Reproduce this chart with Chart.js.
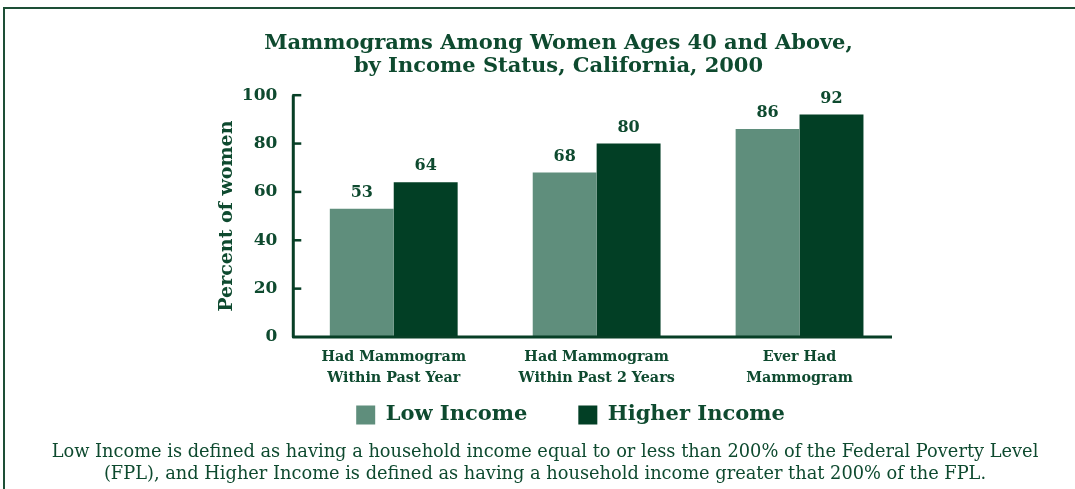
<!DOCTYPE html>
<html>
<head>
<meta charset="utf-8">
<script src="https://cdn.jsdelivr.net/npm/chart.js@4.4.0/dist/chart.umd.min.js"></script>
<style>
  html, body { margin: 0; padding: 0; background: #fff; }
  #wrap { position: relative; width: 1075px; height: 489px; }
  #frame { position: absolute; left: 3px; top: 7px; right: 0; bottom: 0;
           border-top: 2px solid #1d4f36; border-left: 2px solid #1d4f36; }
  canvas { position: absolute; left: 0; top: 0; }
</style>
</head>
<body>
<div id="wrap">
  <div id="frame"></div>
  <canvas id="mammoChart" width="1075" height="489"></canvas>
</div>
<script>
// categorias e valores
const categories = [
  ["Had Mammogram", "Within Past Year"],
  ["Had Mammogram", "Within Past 2 Years"],
  ["Ever Had", "Mammogram"]
];
const lowIncome = [53, 68, 86];
const higherIncome = [64, 80, 92];
const yTicks = [0, 20, 40, 60, 80, 100];

const txt = "#0e4a2f";
const axisColor = "#073f26";
const serif = "'DejaVu Serif', serif";

// rótulos de valor em cima das barras
const valueLabels = {
  id: "valueLabels",
  afterDatasetsDraw(chart) {
    const ctx = chart.ctx;
    ctx.save();
    ctx.font = "bold 16px " + serif;
    ctx.fillStyle = txt;
    ctx.textAlign = "center";
    ctx.textBaseline = "bottom";
    chart.data.datasets.forEach((ds, i) => {
      chart.getDatasetMeta(i).data.forEach((bar, j) => {
        ctx.fillText(ds.data[j], bar.x, bar.y - 8);
      });
    });
    ctx.restore();
  }
};

// eixos com marcas para dentro
const axisLines = {
  id: "axisLines",
  afterDraw(chart) {
    const ctx = chart.ctx;
    const y = chart.scales.y;
    const x = chart.scales.x;
    const left = x.left;
    const bottom = y.getPixelForValue(0);
    ctx.save();
    ctx.strokeStyle = axisColor;
    ctx.lineWidth = 3;
    ctx.lineJoin = "round";
    ctx.beginPath();
    ctx.moveTo(left + 1, y.getPixelForValue(100));
    ctx.lineTo(left + 1, bottom);
    ctx.lineTo(x.right - 9, bottom);
    ctx.stroke();
    ctx.lineWidth = 2.5;
    yTicks.forEach(v => {
      if (v === 0) return;
      const py = y.getPixelForValue(v);
      ctx.beginPath();
      ctx.moveTo(left, py);
      ctx.lineTo(left + 9, py);
      ctx.stroke();
    });
    ctx.restore();
  }
};

// ajuste das caixas da legenda e da nota de rodapé depois do layout
const boxTweaks = {
  id: "boxTweaks",
  afterLayout(chart) {
    const lg = chart.legend;
    lg.top -= 45.5;
    lg.bottom = lg.top + 86;
    lg.left += 12;
    lg.right += 12;
    const note = chart.boxes.find(b => b !== chart.legend && b !== chart.titleBlock &&
      b.position === "bottom" && !b.axis);
    if (note) {
      note.left = 20;
      note.right = 1070;
      note.width = 1050;
    }
  }
};

const ctx = document.getElementById("mammoChart").getContext("2d");

const mammoChart = new Chart(ctx, {
  type: "bar",
  data: {
    labels: categories,
    datasets: [
      { label: "Low Income", data: lowIncome, backgroundColor: "#5f8e7c" },
      { label: "Higher Income", data: higherIncome, backgroundColor: "#023f25" }
    ]
  },
  options: {
    responsive: false,
    animation: false,
    layout: { padding: { left: 216, right: 174, top: 0, bottom: 2 } },
    datasets: { bar: { barPercentage: 1.0, categoryPercentage: 0.63 } },
    scales: {
      x: {
        grid: { display: false, drawTicks: false },
        border: { display: false },
        ticks: {
          color: txt,
          padding: 10,
          maxRotation: 0,
          autoSkip: false,
          font: { family: serif, size: 14.3, weight: "bold", lineHeight: "21px" }
        }
      },
      y: {
        min: 0,
        max: 100,
        afterBuildTicks(scale) {
          scale.ticks = yTicks.map(v => ({ value: v }));
        },
        grid: { display: false, drawTicks: false },
        border: { display: false },
        ticks: {
          color: txt,
          padding: 15,
          font: { family: serif, size: 17, weight: "bold" }
        },
        title: {
          display: true,
          text: "Percent of women",
          color: txt,
          padding: { top: 0, bottom: -12 },
          font: { family: serif, size: 19, weight: "bold" }
        }
      }
    },
    plugins: {
      tooltip: { enabled: false },
      title: {
        display: true,
        text: ["Mammograms Among Women Ages 40 and Above,", "by Income Status, California, 2000"],
        color: txt,
        align: "center",
        padding: { top: 32, bottom: 17 },
        font: { family: serif, size: 21, weight: "bold", lineHeight: 1.1 }
      },
      legend: {
        position: "bottom",
        maxHeight: 36.5,
        labels: {
          color: txt,
          boxWidth: 19,
          boxHeight: 19,
          padding: 51,
          font: { family: serif, size: 21, weight: "bold" }
        }
      },
      subtitle: {
        display: true,
        position: "bottom",
        text: [
          "Low Income is defined as having a household income equal to or less than 200% of the Federal Poverty Level",
          "(FPL), and Higher Income is defined as having a household income greater that 200% of the FPL."
        ],
        color: txt,
        padding: { top: 5.5, bottom: 2 },
        font: { family: serif, size: 17.8, lineHeight: "22px" }
      }
    }
  },
  plugins: [valueLabels, axisLines, boxTweaks]
});
</script>
</body>
</html>
